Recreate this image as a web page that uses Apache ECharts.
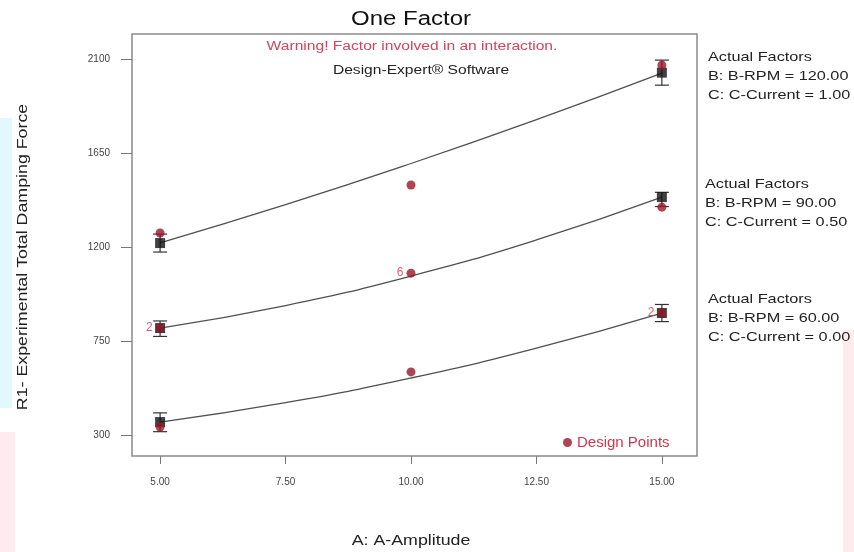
<!DOCTYPE html>
<html>
<head>
<meta charset="utf-8">
<script src="https://cdn.jsdelivr.net/npm/echarts@6/dist/echarts.min.js"></script>
<style>
  html, body { margin: 0; padding: 0; background: #fff; }
  #chart { width: 854px; height: 552px; }
</style>
</head>
<body>
<div id="chart"></div>
<script>
// A: Amplitude levels and tick labels
const amplitudeTicks = [5, 7.5, 10, 12.5, 15]
const forceTicks = [300, 750, 1200, 1650, 2100]

// fitted curves (B-RPM / C-Current combos)
const curveX = [5, 7.5, 10, 12.5, 15]
const fitHigh = [1220, 1403, 1600, 1810, 2033]   // B=120, C=1.00
const fitMid = [812, 920, 1061, 1234, 1439]      // B=90,  C=0.50
const fitLow = [362, 455, 573, 716, 884]         // B=60,  C=0.00

// design points [amplitude, force, replicates]
const designHigh = [[5, 1267, 1], [10, 1497, 1], [15, 2071, 1]]
const designMid = [[5, 812, 2], [10, 1075, 6], [15, 1391, 1]]
const designLow = [[5, 338, 1], [10, 602, 1], [15, 884, 2]]

// predicted points with LSD bars [amplitude, mean, low, high]
const lsdBars = [
  [5, 1219, 1176, 1262], [15, 2035, 1975, 2095],
  [5, 812, 772, 846], [15, 1439, 1394, 1462],
  [5, 362, 316, 406], [15, 884, 843, 925]
]

const factorNotes = [
  ['Actual Factors', 'B: B-RPM = 120.00', 'C: C-Current = 1.00'],
  ['Actual Factors', 'B: B-RPM = 90.00', 'C: C-Current = 0.50'],
  ['Actual Factors', 'B: B-RPM = 60.00', 'C: C-Current = 0.00']
]

const chart = echarts.init(document.getElementById('chart'))

// the source picture is stretched sideways, so texts get a horizontal scale
const STRETCH = 1.27
const FONT = '"Liberation Sans", Arial, sans-serif'

const zip = (xs, ys) => xs.map((x, i) => [x, ys[i]])
const fitLine = (data) => ({
  type: 'line',
  data: zip(curveX, data),
  smooth: true,
  symbol: 'none',
  silent: true,
  lineStyle: { color: '#505050', width: 1.3 },
  z: 2
})
const designSeries = (data) => ({
  name: 'Design Points',
  type: 'scatter',
  data: data,
  symbol: 'circle',
  symbolSize: 9,
  itemStyle: { color: '#981628' },
  label: {
    show: true,
    position: 'left',
    distance: 3,
    color: '#d2354c',
    fontSize: 12,
    formatter: (p) => (p.data[2] > 1 ? String(p.data[2]) : '')
  },
  z: 5
})
const label = (text, x, y, size, color, extra) => Object.assign({
  type: 'text', x: x, y: y, scaleX: STRETCH,
  style: { text: text, fill: color, font: size + 'px ' + FONT, textAlign: 'center', textVerticalAlign: 'middle' }
}, extra || {})

const noteText = []
const noteTops = [48, 175, 290]
const noteLefts = [708, 705, 708]
factorNotes.forEach((lines, i) => {
  noteText.push({
    type: 'text',
    x: noteLefts[i],
    y: noteTops[i],
    scaleX: 1.25,
    style: {
      text: lines.join('\n'),
      fill: '#222',
      font: '13px ' + FONT,
      lineHeight: 19
    }
  })
})

chart.setOption({
  animation: false,
  backgroundColor: '#fff',
  grid: {
    left: 132, right: 157, top: 34, bottom: 96,
    show: true, borderColor: '#8a8a8a', borderWidth: 1.5
  },
  legend: {
    data: ['Design Points'],
    left: 558, top: 430,
    icon: 'circle',
    itemWidth: 9, itemHeight: 9,
    itemGap: 6,
    textStyle: { color: '#d2354c', fontSize: 15, fontFamily: 'Liberation Sans' }
  },
  xAxis: {
    type: 'value',
    min: 4.44, max: 15.70,
    axisLine: { show: false },
    splitLine: { show: false },
    axisTick: { show: true, inside: false, length: 8, customValues: amplitudeTicks, lineStyle: { color: '#777' } },
    axisLabel: {
      customValues: amplitudeTicks,
      formatter: (v) => v.toFixed(2),
      fontSize: 10, color: '#444', margin: 21
    }
  },
  yAxis: {
    type: 'value',
    min: 199.5, max: 2220,
    axisLine: { show: false },
    splitLine: { show: false },
    axisTick: { show: true, inside: false, length: 11, customValues: forceTicks, lineStyle: { color: '#777' } },
    axisLabel: { customValues: forceTicks, formatter: (v) => String(v), fontSize: 10, color: '#444', margin: 22 }
  },
  graphic: [
    { type: 'rect', shape: { x: 0, y: 118, width: 12, height: 290 }, style: { fill: '#e2f8fc' }, z: -1 },
    { type: 'rect', shape: { x: 0, y: 432, width: 15, height: 120 }, style: { fill: '#fdebee' }, z: -1 },
    { type: 'rect', shape: { x: 843, y: 330, width: 11, height: 222 }, style: { fill: '#fdebee' }, z: -1 },
    label('One Factor', 411, 19, 20, '#111', { scaleX: 1.2 }),
    label('Warning! Factor involved in an interaction.', 412, 47, 12, '#d2455a', { scaleX: 1.3 }),
    label('Design-Expert\u00ae Software', 421, 71, 12, '#222', { scaleX: 1.3 }),
    label('A: A-Amplitude', 411, 541, 14, '#222'),
    label('R1- Experimental Total Damping Force', 23, 257, 14, '#222', { rotation: Math.PI / 2 })
  ].concat(noteText),
  series: [
    fitLine(fitHigh),
    fitLine(fitMid),
    fitLine(fitLow),
    {
      type: 'custom',
      silent: true,
      data: lsdBars,
      renderItem: (params, api) => {
        const top = api.coord([api.value(0), api.value(3)])
        const bot = api.coord([api.value(0), api.value(2)])
        const w = 7
        const style = { stroke: '#333', lineWidth: 1.2 }
        return {
          type: 'group',
          children: [
            { type: 'line', shape: { x1: top[0], y1: top[1], x2: bot[0], y2: bot[1] }, style },
            { type: 'line', shape: { x1: top[0] - w, y1: top[1], x2: top[0] + w, y2: top[1] }, style },
            { type: 'line', shape: { x1: bot[0] - w, y1: bot[1], x2: bot[0] + w, y2: bot[1] }, style }
          ]
        }
      },
      z: 3
    },
    {
      type: 'scatter',
      data: lsdBars.map((d) => [d[0], d[1]]),
      symbol: 'rect',
      symbolSize: 10,
      itemStyle: { color: '#111' },
      silent: true,
      z: 4
    },
    designSeries(designHigh),
    designSeries(designMid),
    designSeries(designLow)
  ]
})
</script>
</body>
</html>
